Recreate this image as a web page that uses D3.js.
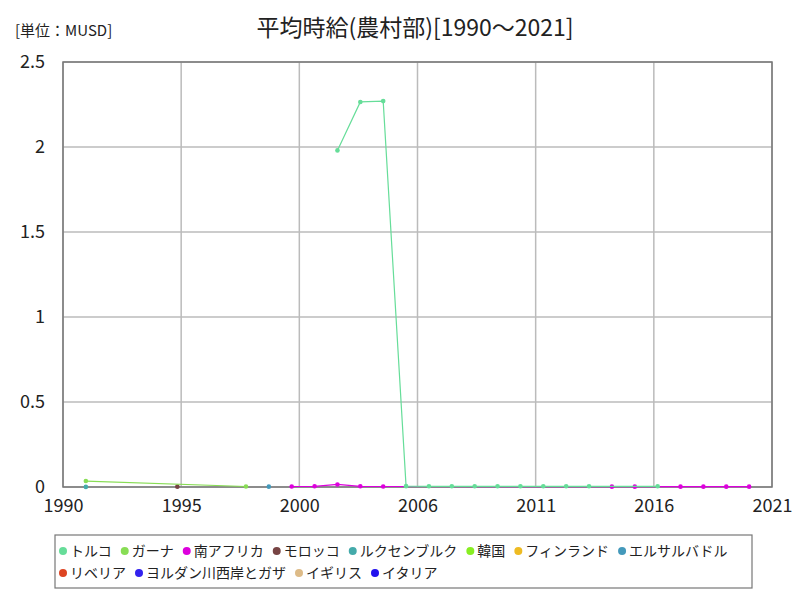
<!DOCTYPE html>
<html><head><meta charset="utf-8">
<script src="https://cdn.jsdelivr.net/npm/d3@7"></script>
<style>body{margin:0;background:#fff}svg{display:block}text{font-family:"Noto Sans CJK JP","Noto Sans",sans-serif}</style>
</head><body>
<svg id="c" width="800" height="600"></svg>
<script>
const title = "平均時給(農村部)[1990～2021]";
const unitLabel = "[単位：MUSD]";
const seriesNames = ["トルコ","ガーナ","南アフリカ","モロッコ","ルクセンブルク","韓国","フィンランド","エルサルバドル","リベリア","ヨルダン川西岸とガザ","イギリス","イタリア"];
const seriesColors = ["#66dd99","#88dd55","#dd00dd","#774444","#44aaaa","#88ee22","#eebb22","#4499bb","#dd4422","#3322ee","#ddbb88","#2211ee"];
const turkeyYears = [2002,2003,2004,2005,2006,2007,2008,2009,2010,2011,2012,2013,2016];
const turkeyValues = [1.98,2.265,2.27,0.005,0.004,0.004,0.004,0.004,0.004,0.004,0.004,0.004,0.004];
const ghanaYears = [1991,1998];
const ghanaValues = [0.035,0.003];
const southAfricaYears = [2000,2001,2002,2003,2004,2014,2015,2017,2018,2019,2020];
const southAfricaValues = [0.003,0.004,0.015,0.004,0.003,0.002,0.002,0.002,0.002,0.002,0.002];
const moroccoYears = [1995];
const moroccoValues = [0.002];
const luxembourgYears = [1991];
const luxembourgValues = [0.0005];
const elSalvadorYears = [1999];
const elSalvadorValues = [0.002];
const yTicks = [0,0.5,1,1.5,2,2.5];
const xTickCount = 6;

const seriesData = [
  [turkeyYears, turkeyValues],[ghanaYears, ghanaValues],[southAfricaYears, southAfricaValues],
  [moroccoYears, moroccoValues],[luxembourgYears, luxembourgValues],[[],[]],[[],[]],
  [elSalvadorYears, elSalvadorValues],[[],[]],[[],[]],[[],[]],[[],[]]
].map((d,i)=>({name:seriesNames[i],color:seriesColors[i],pts:d[0].map((y,j)=>({x:y,v:d[1][j]}))}));

const svg = d3.select("#c");
const L=63,R=772,T=62,B=487;
const x = d3.scaleLinear().domain([1990,2021]).range([L,R]);
const y = d3.scaleLinear().domain([0,2.5]).range([B,T]);
const xTicks = d3.range(xTickCount+1).map(i=>1990+i*31/xTickCount);

svg.append("text").attr("x",415).attr("y",36).attr("text-anchor","middle").attr("font-size",23).attr("fill","#222").text(title);
svg.append("text").attr("x",15).attr("y",36).attr("font-size",15).attr("fill","#222").text(unitLabel);

const g = svg.append("g");
g.selectAll("line.gx").data(xTicks).join("line").attr("x1",d=>x(d)).attr("x2",d=>x(d)).attr("y1",T).attr("y2",B).attr("stroke","#bbb").attr("stroke-width",1.5);
g.selectAll("line.gy").data(yTicks).join("line").attr("x1",L).attr("x2",R).attr("y1",d=>y(d)).attr("y2",d=>y(d)).attr("stroke","#bbb").attr("stroke-width",1.5);
g.append("rect").attr("x",L).attr("y",T).attr("width",R-L).attr("height",B-T).attr("fill","none").attr("stroke","#777").attr("stroke-width",1.5);

const xAxis = d3.axisBottom(x).tickValues(xTicks).tickFormat(d=>Math.round(d)).tickSize(0).tickPadding(12);
svg.append("g").attr("transform",`translate(0,${B})`).call(xAxis).call(a=>a.select(".domain").remove())
  .selectAll("text").attr("font-size",18).attr("fill","#222").attr("font-family","'Noto Sans CJK JP',sans-serif");
const yAxis = d3.axisLeft(y).tickValues(yTicks).tickFormat(d=>d).tickSize(0).tickPadding(18);
svg.append("g").attr("transform",`translate(${L},0)`).call(yAxis).call(a=>a.select(".domain").remove())
  .selectAll("text").attr("font-size",18).attr("fill","#222").attr("font-family","'Noto Sans CJK JP',sans-serif");

const line = d3.line().x(d=>x(d.x)).y(d=>y(d.v));
const sg = svg.append("g");
seriesData.slice().reverse().forEach(s=>{
  if(s.pts.length>1) sg.append("path").attr("d",line(s.pts)).attr("fill","none").attr("stroke",s.color).attr("stroke-width",1.2);
  sg.selectAll(null).data(s.pts).join("circle").attr("cx",d=>x(d.x)).attr("cy",d=>y(d.v)).attr("r",2.3).attr("fill",s.color);
});

// legend
const lg = svg.append("g");
lg.append("rect").attr("x",55).attr("y",535).attr("width",697).attr("height",53).attr("fill","#fff").attr("stroke","#777").attr("stroke-width",1.2);
let lx=63, ly=551;
seriesData.forEach(s=>{
  const t = lg.append("text").attr("x",lx+7).attr("y",ly+5).attr("font-size",14).attr("fill","#222").text(s.name);
  const w = t.node().getComputedTextLength();
  if(lx+7+w>748){ lx=63; ly+=22; t.attr("x",lx+7).attr("y",ly+5); }
  lg.append("circle").attr("cx",lx).attr("cy",ly).attr("r",4).attr("fill",s.color);
  lx += 7+w+13;
});
</script>
</body></html>
